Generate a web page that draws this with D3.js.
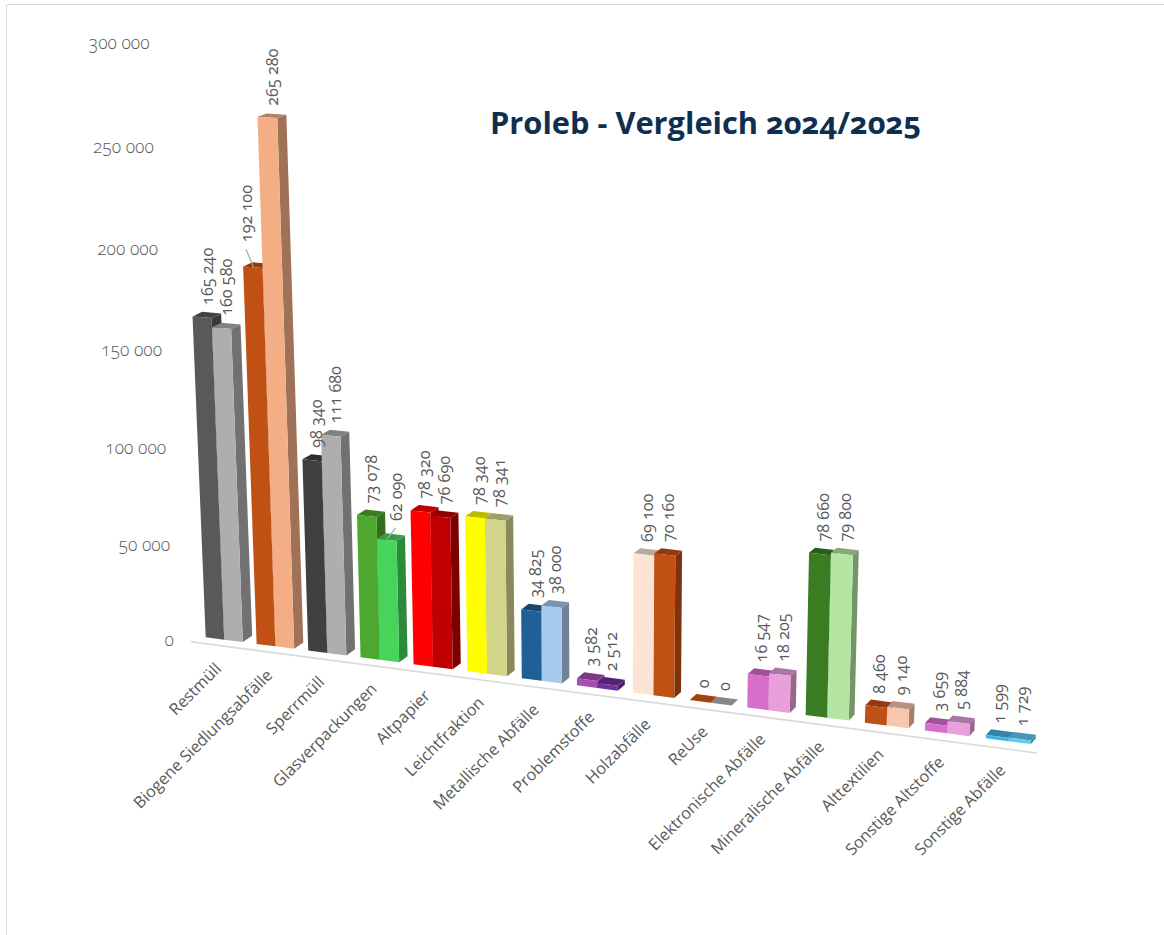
<!DOCTYPE html>
<html><head><meta charset="utf-8">
<script src="https://cdn.jsdelivr.net/npm/d3@7"></script>
<style>
html,body{margin:0;padding:0;background:#fff}
svg{display:block}
text{font-family:"Open Sans",Lato,sans-serif;fill:#595959;font-variant-numeric:oldstyle-nums;font-feature-settings:"onum"}
</style></head><body><svg id="c" width="1164" height="935"></svg>
<script>
const categories=["Restmüll","Biogene Siedlungsabfälle","Sperrmüll","Glasverpackungen","Altpapier","Leichtfraktion","Metallische Abfälle","Problemstoffe","Holzabfälle","ReUse","Elektronische Abfälle","Mineralische Abfälle","Alttextilien","Sonstige Altstoffe","Sonstige Abfälle"];
const values2024=[165240,192100,98340,73078,78320,78340,34825,3582,69100,0,16547,78660,8460,3659,1599];
const values2025=[160580,265280,111680,62090,76690,78341,38000,2512,70160,0,18205,79800,9140,5884,1729];
const colors2024=["#595959","#c05014","#404040","#4ea72e","#ff0000","#ffff00","#1f6097","#a64fb0","#fbe3d6","#df5814","#d86ecc","#3a7c22","#c05014","#d86ecc","#45b0e1"];
const colors2025=["#aeaeae","#f4ae85","#aeaeae","#47d45a","#c00000","#d3d58a","#a6caec","#7030a0","#c05014","#b5b5b5","#e89fdc","#b4e5a2","#f6c6ad","#e89fdc","#61cbf3"];
const tickValues=[0,50000,100000,150000,200000,250000,300000];
const titleText="Proleb - Vergleich 2024/2025";
// labels moved away from the bar and tied with a leader line: [category, series, dx, dy]
const leaderLabels=[[1,0,-11,-13],[3,1,5,-6]];

const svg=d3.select("#c");
const fmt=d3.formatLocale({decimal:",",thousands:" ",grouping:[3],currency:["",""]}).format(",d");

// Scales
const catScale=d3.scalePoint().domain(categories).range([0,14]);
const seriesW=0.365;
const heightScale=d3.scaleLinear().domain([0,300000]).range([0,565.8]);

// perspective projection: s along axis, depth 0..1, value -> screen
const B=0.00657,D=1.75e-7;
function project(s,depth,v){
  const f=1/(1-B*s);
  const bx=205.7+50.6*s*f, by=637.3+6.55*s*f;
  const h=f*heightScale(v)/(1-D*v);
  const lean=(bx-603)*1.033e-4;
  const dx=9.6-0.33*s, dy=-6.3+0.043*s+0.0053*h;
  return [bx+h*lean+depth*dx, by-h+depth*dy];
}
const path=pts=>"M"+pts.map(p=>p[0].toFixed(2)+","+p[1].toFixed(2)).join("L")+"Z";
const shade=(c,k)=>{const r=d3.rgb(c);return d3.rgb(r.r*k,r.g*k,r.b*k).formatHex();};

// frame
svg.append("path").attr("d","M6.5,935V4.5H1164").attr("fill","none").attr("stroke","#d9d9d9");

// base line
const a=project(-0.13,-0.85,0),b=project(14.92,-1.3,0);
svg.append("line").attr("x1",a[0]).attr("y1",a[1]).attr("x2",b[0]).attr("y2",b[1]).attr("stroke","#d9d9d9").attr("stroke-width",1.6);

// y ticks
svg.append("g").selectAll("text").data(tickValues).join("text")
  .attr("x",d=>project(-0.63,0,d)[0]+(d/300000)*2).attr("y",d=>project(-0.63,0,d)[1]+8-(d/300000)*2)
  .attr("text-anchor","end").attr("dominant-baseline","middle").attr("font-size",17.5).attr("font-weight",300)
  .text(d=>fmt(d));

// bars
const rows=[];
categories.forEach((c,i)=>{
  rows.push({c,i,k:0,v:values2024[i],col:colors2024[i]});
  rows.push({c,i,k:1,v:values2025[i],col:colors2025[i]});
});
const g=svg.append("g");
rows.forEach(d=>{
  const s0=catScale(d.c)+d.k*seriesW, s1=s0+seriesW, v=d.v;
  const bar=g.append("g");
  bar.append("path").attr("fill",shade(d.col,0.65))
    .attr("d",path([project(s1,0,0),project(s1,1,0),project(s1,1,v),project(s1,0,v)]));
  bar.append("path").attr("fill",shade(d.col,0.74))
    .attr("d",path([project(s0,0,v),project(s0,1,v),project(s1,1,v),project(s1,0,v)]));
  bar.append("path").attr("fill",d.col)
    .attr("d",path([project(s0,0,0),project(s1,0,0),project(s1,0,v),project(s0,0,v)]));
});

// data labels
const lab=svg.append("g");
rows.forEach(d=>{
  const s=catScale(d.c)+d.k*seriesW+seriesW/2;
  const t=project(s,0.5,d.v);
  let x=t[0]+1.5,y=t[1]-10;
  const n=leaderLabels.find(l=>l[0]===d.i&&l[1]===d.k);
  if(n){
    x+=n[2];y+=n[3];
    lab.append("line").attr("x1",x-2).attr("y1",y+7).attr("x2",t[0]-4).attr("y2",t[1]+2)
      .attr("stroke","#a6a6a6").attr("stroke-width",1.2);
  }
  lab.append("text").attr("transform",`translate(${x},${y}) rotate(-90)`)
    .attr("dominant-baseline","middle").attr("font-size",16.2).text(fmt(d.v));
});

// category labels
svg.append("g").selectAll("text").data(categories).join("text")
  .attr("transform",d=>{const p=project(catScale(d)+seriesW,0,0);return `translate(${p[0]-5},${p[1]+27}) rotate(-45)`;})
  .attr("text-anchor","end").attr("dominant-baseline","middle").attr("font-size",16.2).text(d=>d);

// title
svg.append("text").attr("x",490).attr("y",134).attr("font-size",30.8).attr("font-weight",700)
  .style("fill","#0e2f4f").text(titleText);
</script></body></html>
